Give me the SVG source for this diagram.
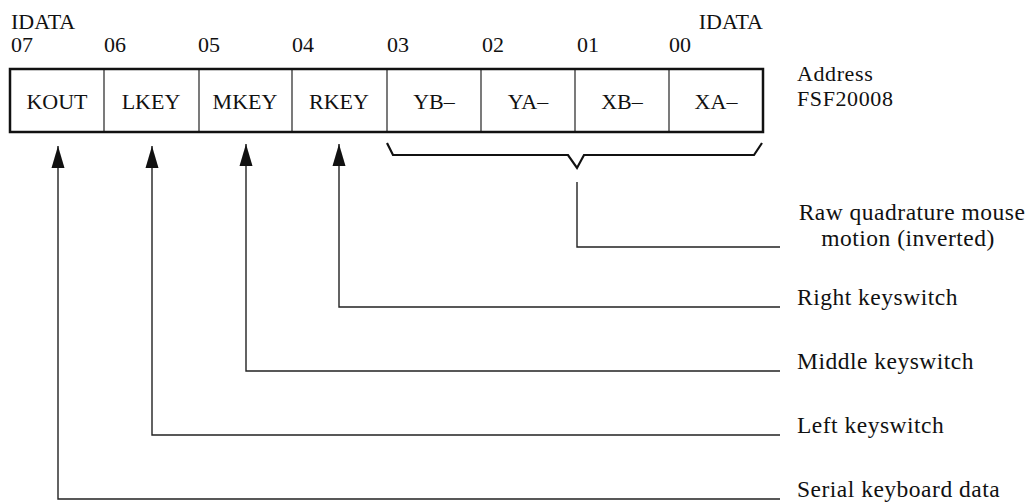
<svg xmlns="http://www.w3.org/2000/svg" width="1031" height="502" viewBox="0 0 1031 502">
  <style>
    text { font-family: "Liberation Serif", "Times New Roman", serif; font-size: 22px; fill: #111; }
    .cell text, .mid { text-anchor: middle; }
    .desc { font-size: 23.5px; letter-spacing: 0.5px; }
    .addr { letter-spacing: 0.6px; }
    .frame { fill: none; stroke: #111; stroke-width: 2.5; }
    .div { stroke: #222; stroke-width: 1.2; }
    .wire { fill: none; stroke: #222; stroke-width: 1.4; }
    .brace { fill: none; stroke: #111; stroke-width: 2.2; stroke-linejoin: miter; }
  </style>
  <defs>
    <marker id="head" markerUnits="userSpaceOnUse" markerWidth="24" markerHeight="14" viewBox="0 0 24 14" refX="22" refY="7" orient="auto">
      <path d="M0,0.5 L22,7 L0,13.5 Z" fill="#111"/>
    </marker>
  </defs>

  <rect width="1031" height="502" fill="#fff"/>

  <!-- bit numbering above the register -->
  <g id="bit-labels">
    <text x="11" y="29">IDATA</text>
    <text x="763" y="29" text-anchor="end">IDATA</text>
    <text x="11" y="52">07</text>
    <text x="104" y="52">06</text>
    <text x="198" y="52">05</text>
    <text x="292" y="52">04</text>
    <text x="387" y="52">03</text>
    <text x="482" y="52">02</text>
    <text x="577" y="52">01</text>
    <text x="669" y="52">00</text>
  </g>

  <!-- register cells -->
  <g id="register">
    <g id="cell-kout" class="cell"><text x="57" y="109">KOUT</text></g>
    <g id="cell-lkey" class="cell"><text x="151" y="109">LKEY</text></g>
    <g id="cell-mkey" class="cell"><text x="245" y="109">MKEY</text></g>
    <g id="cell-rkey" class="cell"><text x="339" y="109">RKEY</text></g>
    <g id="cell-yb" class="cell"><text x="434" y="109">YB–</text></g>
    <g id="cell-ya" class="cell"><text x="528" y="109">YA–</text></g>
    <g id="cell-xb" class="cell"><text x="622" y="109">XB–</text></g>
    <g id="cell-xa" class="cell"><text x="716" y="109">XA–</text></g>
    <line class="div" x1="104" y1="69" x2="104" y2="132"/>
    <line class="div" x1="199" y1="69" x2="199" y2="132"/>
    <line class="div" x1="292" y1="69" x2="292" y2="132"/>
    <line class="div" x1="387" y1="69" x2="387" y2="132"/>
    <line class="div" x1="481" y1="69" x2="481" y2="132"/>
    <line class="div" x1="575" y1="69" x2="575" y2="132"/>
    <line class="div" x1="669" y1="69" x2="669" y2="132"/>
    <rect class="frame" x="10" y="69" width="753" height="63"/>
  </g>

  <g id="address">
    <text class="addr" x="797" y="81">Address</text>
    <text class="addr" x="797" y="106">FSF20008</text>
  </g>

  <!-- brace grouping the four quadrature bits -->
  <g id="brace">
    <path class="brace" d="M387,143 L393,155 L568,155 L577,168 L584,155 L754,155 L762,143"/>
  </g>

  <!-- field descriptions -->
  <g id="label-mouse">
    <text class="desc mid" x="912" y="220">Raw quadrature mouse</text>
    <text class="desc mid" x="908" y="246">motion (inverted)</text>
  </g>
  <g id="label-right"><text class="desc" x="797" y="305">Right keyswitch</text></g>
  <g id="label-middle"><text class="desc" x="797" y="369">Middle keyswitch</text></g>
  <g id="label-left"><text class="desc" x="797" y="433">Left keyswitch</text></g>
  <g id="label-serial"><text class="desc" x="797" y="497">Serial keyboard data</text></g>

  <!-- connectors -->
  <g id="connectors">
    <path class="wire" d="M577,182 V247 H780"/>
    <path class="wire" d="M780,307 H339 V144" marker-end="url(#head)"/>
    <path class="wire" d="M780,371 H246 V144" marker-end="url(#head)"/>
    <path class="wire" d="M780,435 H152 V146" marker-end="url(#head)"/>
    <path class="wire" d="M780,499 H58 V146" marker-end="url(#head)"/>
  </g>
</svg>
